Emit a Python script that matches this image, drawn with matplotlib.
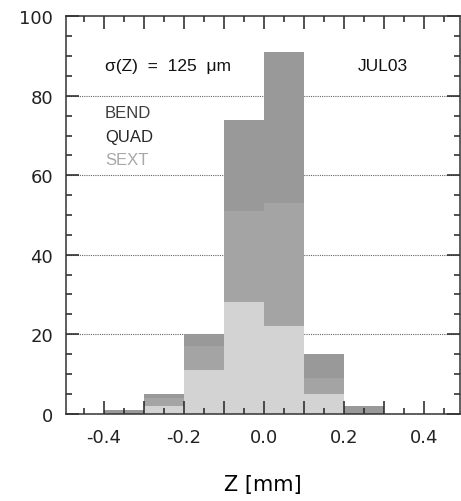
import matplotlib
matplotlib.use("Agg")
import matplotlib.pyplot as plt
import numpy as np
from matplotlib.ticker import MultipleLocator, FuncFormatter

plt.rcParams['axes.unicode_minus'] = False

# Data
bin_left = [-0.4, -0.3, -0.2, -0.1, 0.0, 0.1, 0.2]
bin_width = 0.1
sext = [0, 2, 11, 28, 22, 5, 0]
quad = [0, 2, 6, 23, 31, 4, 0]
bend = [1, 1, 3, 23, 38, 6, 2]

labels = ["BEND", "QUAD", "SEXT"]
label_colors = ["#3c3c3c", "#262626", "#a8a8a8"]
bar_colors = {"SEXT": "#d3d3d3", "QUAD": "#a4a4a4", "BEND": "#999999"}

fig = plt.figure(figsize=(4.61, 5.02), dpi=100)
ax = fig.add_axes([65.7/461, 1 - 414.7/502, (460 - 65.7)/461, (414.7 - 17.3)/502])

sext_a = np.array(sext, float)
quad_a = np.array(quad, float)
bend_a = np.array(bend, float)
ax.bar(bin_left, sext_a, width=bin_width, align='edge', color=bar_colors["SEXT"], linewidth=0, zorder=1)
ax.bar(bin_left, quad_a, width=bin_width, bottom=sext_a, align='edge', color=bar_colors["QUAD"], linewidth=0, zorder=1)
ax.bar(bin_left, bend_a, width=bin_width, bottom=sext_a + quad_a, align='edge', color=bar_colors["BEND"], linewidth=0, zorder=1)

for yv in [20, 40, 60, 80]:
    ax.axhline(yv, color="#666666", lw=0.8, ls=(0, (1, 1)), zorder=0.5)

ax.set_xlim(-0.496, 0.49)
ax.set_ylim(0, 100)

ax.xaxis.set_major_locator(MultipleLocator(0.1))
ax.xaxis.set_minor_locator(MultipleLocator(0.05))
ax.yaxis.set_major_locator(MultipleLocator(20))
ax.yaxis.set_minor_locator(MultipleLocator(5))

def xfmt(v, pos):
    k = int(round(v * 10))
    if k % 2 != 0:
        return ""
    return "%.1f" % (k / 10.0) if k != 0 else "0.0"
ax.xaxis.set_major_formatter(FuncFormatter(xfmt))

ax.tick_params(which='both', direction='in', top=True, right=True, colors="#222222", width=1.1, zorder=2)
ax.tick_params(which='major', length=9.4)
ax.tick_params(which='minor', length=4.5)
ax.tick_params(axis='both', which='major', labelsize=13)
ax.tick_params(axis='x', which='major', pad=10.5)
ax.tick_params(axis='y', which='major', pad=9)
for sp in ax.spines.values():
    sp.set_color("#333333")
    sp.set_linewidth(1.1)

ax.set_xlabel("Z [mm]", fontsize=15, labelpad=20)

tfont = dict(family="Liberation Sans", fontsize=12.5)
ax.text(-0.3975, 87.5, "σ(Z)  =  125  μm", color="#111111", va="center", ha="left", **tfont)
ax.text(0.235, 87.5, "JUL03", color="#111111", va="center", ha="left", **tfont)
lfont = dict(family="Liberation Sans", fontsize=12)
for lbl, col, yv in zip(labels, label_colors, [75.7, 69.8, 64.0]):
    ax.text(-0.3975, yv, lbl, color=col, va="center", ha="left", **lfont)

fig.savefig("out.png", dpi=100)
